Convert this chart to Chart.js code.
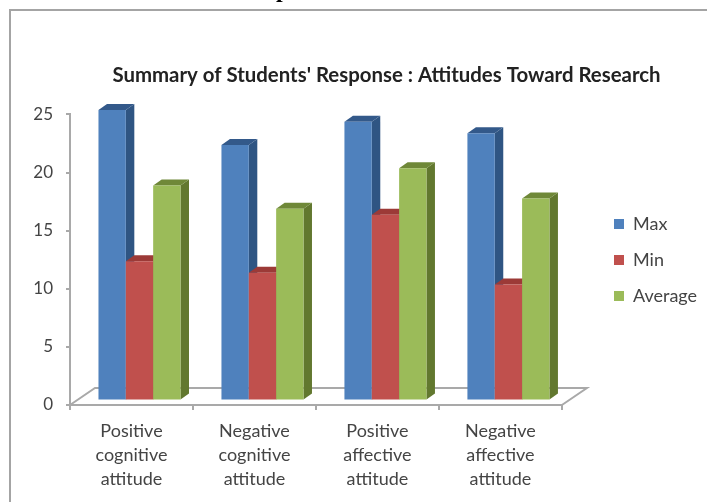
<!DOCTYPE html>
<html>
<head>
<meta charset="utf-8">
<style>
  html, body { margin: 0; padding: 0; background: #fff; }
  #wrap { position: relative; width: 707px; height: 502px; }
</style>
<script src="https://cdn.jsdelivr.net/npm/chart.js@4"></script>
</head>
<body>
<div id="wrap"><canvas id="chart" width="707" height="502"></canvas></div>
<script>
// Survey summary per attitude dimension
const categories = [
  ['Positive', 'cognitive', 'attitude'],
  ['Negative', 'cognitive', 'attitude'],
  ['Positive', 'affective', 'attitude'],
  ['Negative', 'affective', 'attitude']
];
const maxScores = [25, 22, 24, 23];
const minScores = [12, 11, 16, 10];
const averageScores = [18.5, 16.5, 20, 17.4];
const yTicks = [0, 5, 10, 15, 20, 25];
const chartTitle = "Summary of Students' Response : Attitudes Toward Research";

// Extrusion offsets for the pseudo-3D look
const FRONT_DX = 8, FRONT_DY = -4.4;
const DEPTH_X = 8.5, DEPTH_Y = -6;
const FLOOR_X = 25, FLOOR_Y = -17;
const AXIS_COLOR = '#a9a9a9';
const TEXT_COLOR = '#444444';
const FONT = 'Lato, "Open Sans", sans-serif';

const sideColors = ['#2f5583', '#8f3533', '#62782f'];
const topColors = ['#33598a', '#9c3a37', '#6f8838'];

function polygon(ctx, pts, color) {
  ctx.fillStyle = color;
  ctx.beginPath();
  pts.forEach((p, i) => i ? ctx.lineTo(p[0], p[1]) : ctx.moveTo(p[0], p[1]));
  ctx.closePath();
  ctx.fill();
}

// Page frame and the floor of the plot, behind everything else
const backdrop = {
  id: 'backdrop',
  beforeDatasetsDraw(chart) {
    const { ctx, chartArea: a } = chart;
    ctx.save();
    ctx.strokeStyle = '#a4a4a4';
    ctx.lineWidth = 2;
    ctx.beginPath();
    ctx.moveTo(10, 502); ctx.lineTo(10, 10); ctx.lineTo(707, 10);
    ctx.stroke();
    ctx.strokeStyle = AXIS_COLOR;
    ctx.beginPath();
    ctx.moveTo(a.left, a.bottom);
    ctx.lineTo(a.left + FLOOR_X, a.bottom + FLOOR_Y);
    ctx.lineTo(a.right + FLOOR_X, a.bottom + FLOOR_Y);
    ctx.lineTo(a.right, a.bottom);
    ctx.stroke();
    // descender of the heading above the frame
    ctx.fillStyle = '#000';
    ctx.font = 'bold 24px "Liberation Serif", serif';
    ctx.textBaseline = 'alphabetic';
    ctx.fillText('p', 276, -3);
    ctx.restore();
  }
};

// Paints the bars left to right within a group, each lifted off the axis
// plane with its side and top faces, so a later bar covers the earlier faces
const extrude = {
  id: 'extrude',
  beforeDatasetsDraw(chart) {
    const { ctx } = chart;
    chart.getSortedVisibleDatasetMetas()
      .sort((a, b) => a.index - b.index)
      .forEach(meta => {
        ctx.save();
        ctx.translate(FRONT_DX, FRONT_DY);
        meta.data.forEach(bar => {
          const p = bar.getProps(['x', 'y', 'base', 'width'], true);
          const l = p.x - p.width / 2, r = p.x + p.width / 2;
          polygon(ctx, [[r, p.y], [r + DEPTH_X, p.y + DEPTH_Y], [r + DEPTH_X, p.base + DEPTH_Y], [r, p.base]], sideColors[meta.index]);
          polygon(ctx, [[l, p.y], [l + DEPTH_X, p.y + DEPTH_Y], [r + DEPTH_X, p.y + DEPTH_Y], [r, p.y]], topColors[meta.index]);
        });
        meta.controller.draw();
        ctx.restore();
      });
  },
  beforeDatasetDraw() {
    return false;
  }
};

// Places the title and legend boxes where the layout wants them
const placeBoxes = {
  id: 'placeBoxes',
  afterLayout(chart) {
    const legend = chart.legend;
    const w = legend.width;
    legend.left = 596;
    legend.right = 596 + w;
    legend.top += 9;
    legend.bottom += 9;
    const title = chart.titleBlock;
    title.left = 33;
    title.right = 707 + 33;
  }
};

new Chart(document.getElementById('chart'), {
  type: 'bar',
  data: {
    labels: categories,
    datasets: [
      { label: 'Max', data: maxScores, backgroundColor: '#4f81bd' },
      { label: 'Min', data: minScores, backgroundColor: '#c0504d' },
      { label: 'Average', data: averageScores, backgroundColor: '#9bbb59' }
    ]
  },
  options: {
    responsive: false,
    animation: false,
    layout: { padding: { left: 0, right: 34, top: 0, bottom: 0 } },
    datasets: { bar: { categoryPercentage: 0.667, barPercentage: 1, borderWidth: 0 } },
    plugins: {
      title: {
        display: true,
        text: chartTitle,
        color: '#222',
        font: { family: FONT, size: 20.4, weight: 'bold' },
        padding: { top: 63, bottom: 27 }
      },
      legend: {
        position: 'right',
        labels: {
          boxWidth: 10,
          boxHeight: 10,
          color: TEXT_COLOR,
          font: { family: FONT, size: 18 },
          padding: 18
        }
      },
      tooltip: { enabled: false }
    },
    scales: {
      x: {
        grid: { offset: true, drawOnChartArea: false, drawTicks: true, tickLength: 5, color: AXIS_COLOR, lineWidth: 2 },
        border: { color: AXIS_COLOR, width: 2 },
        ticks: {
          color: TEXT_COLOR,
          padding: 9,
          maxRotation: 0,
          autoSkip: false,
          font: { family: FONT, size: 18, lineHeight: 1.333 }
        },
        afterFit(scale) { scale.height = 97; }
      },
      y: {
        min: 0,
        max: 25,
        afterBuildTicks(scale) { scale.ticks = yTicks.map(value => ({ value })); },
        grid: { drawOnChartArea: false, drawTicks: true, tickLength: 4, color: AXIS_COLOR, lineWidth: 2 },
        border: { color: AXIS_COLOR, width: 2 },
        ticks: {
          color: TEXT_COLOR,
          padding: 13,
          font: { family: FONT, size: 17 }
        },
        afterFit(scale) { scale.width = 70; }
      }
    }
  },
  plugins: [backdrop, extrude, placeBoxes]
});
</script>
</body>
</html>
